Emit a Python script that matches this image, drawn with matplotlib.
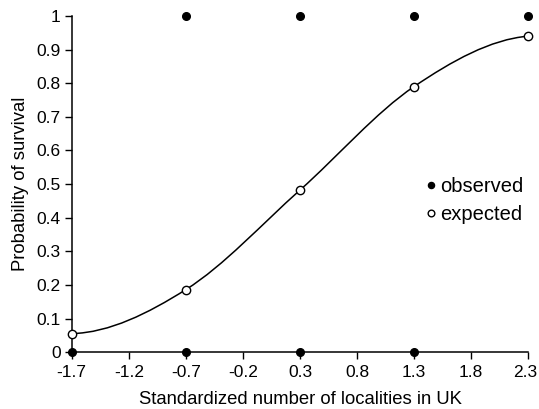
import numpy as np
import matplotlib
matplotlib.use("Agg")
import matplotlib.pyplot as plt
from matplotlib.path import Path
from matplotlib.patches import PathPatch
from matplotlib.transforms import ScaledTranslation

plt.rcParams['font.family'] = ['Liberation Sans', 'DejaVu Sans']

# Data
x_ticks = [-1.7, -1.2, -0.7, -0.2, 0.3, 0.8, 1.3, 1.8, 2.3]
y_ticks = [0, 0.1, 0.2, 0.3, 0.4, 0.5, 0.6, 0.7, 0.8, 0.9, 1]
obs_x = [-1.7, -0.7, -0.7, 0.3, 0.3, 1.3, 1.3, 2.3]
obs_y = [0, 0, 1, 0, 1, 0, 1, 1]
exp_x = [-1.7, -0.7, 0.3, 1.3, 2.3]
exp_y = [0.055, 0.186, 0.482, 0.790, 0.940]

fig = plt.figure(figsize=(5.39, 4.09), dpi=100)
ax = fig.add_axes([0.133, 0.139, 0.847, 0.822])

# Smooth curve through expected points (cubic Bezier segments, Excel-style smoothing)
xs = np.array(exp_x); ys = np.array(exp_y)
n = len(xs)
m = np.zeros(n)
for i in range(1, n - 1):
    m[i] = (ys[i + 1] - ys[i - 1]) / (xs[i + 1] - xs[i - 1])
m[0] = 0.01
m[-1] = 0.03
verts = [(xs[0], ys[0])]
codes = [Path.MOVETO]
for i in range(n - 1):
    dx = xs[i + 1] - xs[i]
    verts += [(xs[i] + dx / 3, ys[i] + m[i] * dx / 3),
              (xs[i + 1] - dx / 3, ys[i + 1] - m[i + 1] * dx / 3),
              (xs[i + 1], ys[i + 1])]
    codes += [Path.CURVE4] * 3
ax.add_patch(PathPatch(Path(verts, codes), facecolor='none', edgecolor='black', lw=1.1, zorder=2))

ax.plot(obs_x, obs_y, 'o', color='black', ms=5.5, clip_on=False, zorder=4, label='observed')
ax.plot(exp_x, exp_y, 'o', mfc='white', mec='black', mew=1.0, ms=6, clip_on=False, zorder=5, label='expected')

ax.set_xlim(-1.7, 2.3)
ax.set_ylim(0, 1)
ax.set_xticks(x_ticks)
ax.set_xticklabels([f"{v:g}" for v in x_ticks])
ax.set_yticks(y_ticks)
ax.set_yticklabels([f"{v:g}" for v in y_ticks])
for s in ['top', 'right']:
    ax.spines[s].set_visible(False)
for s in ['left', 'bottom']:
    ax.spines[s].set_linewidth(1.1)
ax.tick_params(direction='out', length=5, width=1.0, labelsize=12.5)
ax.tick_params(axis='x', pad=4.5)
ax.tick_params(axis='y', pad=3)
last = ax.get_xticklabels()[-1]
last.set_transform(last.get_transform() + ScaledTranslation(-3 / 100, 0, fig.dpi_scale_trans))
ax.set_xlabel('Standardized number of localities in UK', fontsize=13.3, labelpad=8)
ax.set_ylabel('Probability of survival', fontsize=13.3, labelpad=5)

ax.legend(loc='upper left', bbox_to_anchor=(0.755, 0.55), frameon=False, fontsize=14.5,
          handlelength=0.45, handletextpad=0.25, labelspacing=0.42, borderpad=0, markerscale=0.8)

fig.savefig('out.png', dpi=100)
